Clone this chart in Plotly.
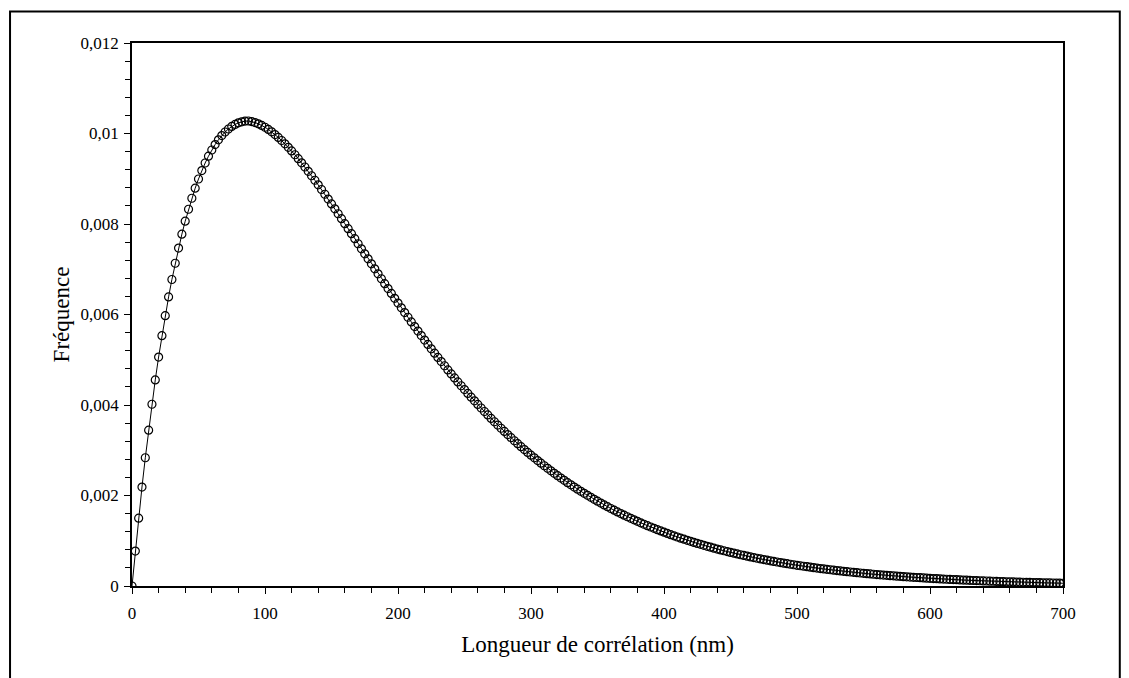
import plotly.graph_objects as go

# correlation length sampling (nm): first sample and step between markers
X_START = 0
X_STEP = 2.5

freq = [
    0.0, 0.000772, 0.0015, 0.002187, 0.002834, 0.003444, 0.004017, 0.004555,
    0.00506, 0.005533, 0.005975, 0.006389, 0.006774, 0.007133, 0.007467, 0.007776,
    0.008062, 0.008326, 0.008569, 0.008792, 0.008995, 0.00918, 0.009348, 0.009499,
    0.009635, 0.009755, 0.009861, 0.009954, 0.010033, 0.0101, 0.010156, 0.010201,
    0.010235, 0.010259, 0.010274,
    # 87.5 - 125
    0.010276, 0.010263, 0.010242, 0.010214, 0.010179, 0.010138, 0.01009, 0.010036,
    0.009977, 0.009914, 0.009845, 0.009772, 0.009695, 0.009614, 0.00953, 0.009443,
    # 127.5 - 167.5
    0.009353, 0.00926, 0.009164, 0.009066, 0.008967, 0.008865, 0.008762, 0.008657,
    0.008551, 0.008444, 0.008336, 0.008227, 0.008118, 0.008007, 0.007897, 0.007786,
    0.007675,
    # 170 - 210
    0.007564, 0.007452, 0.007341, 0.00723, 0.00712, 0.007009, 0.006899, 0.00679,
    0.006681, 0.006573, 0.006465, 0.006358, 0.006252, 0.006147, 0.006042, 0.005939,
    0.005836,
    # 212.5 - 252.5
    0.005734, 0.005634, 0.005534, 0.005435, 0.005338, 0.005241, 0.005146, 0.005052,
    0.004959, 0.004867, 0.004776, 0.004686, 0.004598, 0.004511, 0.004425, 0.00434,
    0.004256,
    # 255 - 295
    0.004174, 0.004093, 0.004012, 0.003934, 0.003856, 0.00378, 0.003704, 0.00363,
    0.003557, 0.003486, 0.003415, 0.003346, 0.003278, 0.00321, 0.003145, 0.00308,
    0.003016,
    # 297.5 - 337.5
    0.002953, 0.002892, 0.002832, 0.002772, 0.002714, 0.002657, 0.0026, 0.002545,
    0.002491, 0.002438, 0.002386, 0.002335, 0.002284, 0.002235, 0.002187, 0.002139,
    0.002093,
    # 340 - 380
    0.002047, 0.002003, 0.001959, 0.001916, 0.001874, 0.001832, 0.001792, 0.001752,
    0.001713, 0.001675, 0.001638, 0.001601, 0.001565, 0.00153, 0.001496, 0.001462,
    0.001429,
    # 382.5 - 422.5
    0.001397, 0.001365, 0.001334, 0.001304, 0.001274, 0.001245, 0.001217, 0.001189,
    0.001162, 0.001135, 0.001109, 0.001083, 0.001058, 0.001034, 0.00101, 0.000987,
    0.000964,
    # 425 - 465
    0.000941, 0.00092, 0.000898, 0.000877, 0.000857, 0.000837, 0.000817, 0.000798,
    0.000779, 0.000761, 0.000743, 0.000725, 0.000708, 0.000691, 0.000675, 0.000659,
    0.000643,
    # 467.5 - 507.5
    0.000628, 0.000613, 0.000599, 0.000584, 0.00057, 0.000557, 0.000543, 0.00053,
    0.000518, 0.000505, 0.000493, 0.000481, 0.00047, 0.000458, 0.000447, 0.000436,
    0.000426,
    # 510 - 550
    0.000416, 0.000406, 0.000396, 0.000386, 0.000377, 0.000368, 0.000359, 0.00035,
    0.000341, 0.000333, 0.000325, 0.000317, 0.000309, 0.000302, 0.000294, 0.000287,
    0.00028,
    # 552.5 - 592.5
    0.000273, 0.000266, 0.00026, 0.000253, 0.000247, 0.000241, 0.000235, 0.000229,
    0.000224, 0.000218, 0.000213, 0.000207, 0.000202, 0.000197, 0.000192, 0.000188,
    0.000183,
    # 595 - 635
    0.000178, 0.000174, 0.00017, 0.000165, 0.000161, 0.000157, 0.000153, 0.000149,
    0.000146, 0.000142, 0.000139, 0.000135, 0.000132, 0.000128, 0.000125, 0.000122,
    0.000119,
    # 637.5 - 677.5
    0.000116, 0.000113, 0.00011, 0.000107, 0.000105, 0.000102, 0.000099, 0.000097,
    0.000094, 0.000092, 0.00009, 0.000087, 0.000085, 0.000083, 0.000081, 0.000079,
    0.000077,
    # 680 - 700
    0.000075, 0.000073, 0.000071, 0.000069, 0.000068, 0.000066, 0.000064, 0.000063,
    0.000061,
]

x_range = [0, 700]
x_tick_step = 100
y_range = [0, 0.012]
y_tick_step = 0.002

font_family = "Liberation Serif, Times New Roman, serif"

fig = go.Figure()
fig.add_trace(go.Scatter(
    x0=X_START, dx=X_STEP, y=freq,
    mode="lines+markers",
    line=dict(color="black", width=1),
    marker=dict(symbol="circle-open", size=8, color="black",
                line=dict(color="black", width=1.2)),
    showlegend=False,
))

axis_common = dict(
    showgrid=False, zeroline=False,
    showline=True, linecolor="black", linewidth=1.5, mirror=True,
    ticks="outside", tickcolor="black", ticklen=6, tickwidth=1.2,
    tickfont=dict(family=font_family, size=17, color="black"),
)

fig.update_xaxes(
    range=x_range, dtick=x_tick_step, tick0=0, ticklabelstandoff=5,
    minor=dict(dtick=20, ticks="outside", ticklen=5, tickcolor="black", tickwidth=1.2),
    title=dict(text="Longueur de corrélation (nm)",
               font=dict(family=font_family, size=23, color="black"), standoff=14),
    **axis_common,
)
fig.update_yaxes(
    range=y_range, dtick=y_tick_step, tick0=0, ticklabelstandoff=2,
    minor=dict(dtick=0.0004, ticks="outside", ticklen=5, tickcolor="black", tickwidth=1.2),
    title=dict(text="Fréquence",
               font=dict(family=font_family, size=23, color="black"), standoff=5),
    **axis_common,
)

# outer frame round the whole chart (bottom edge runs past the page)
fig.add_shape(type="rect", xref="paper", yref="paper",
              x0=-0.131, x1=1.061, y0=-0.3, y1=1.058,
              line=dict(color="black", width=2), layer="above")

# the page body adds an 8px margin, so the figure is drawn 8px smaller
fig.update_layout(
    width=1121, height=670,
    margin=dict(l=124, r=66, t=35, b=92),
    paper_bgcolor="white", plot_bgcolor="white",
    separators=", ",
    font=dict(family=font_family, color="black"),
)

fig.write_html("out.html")
